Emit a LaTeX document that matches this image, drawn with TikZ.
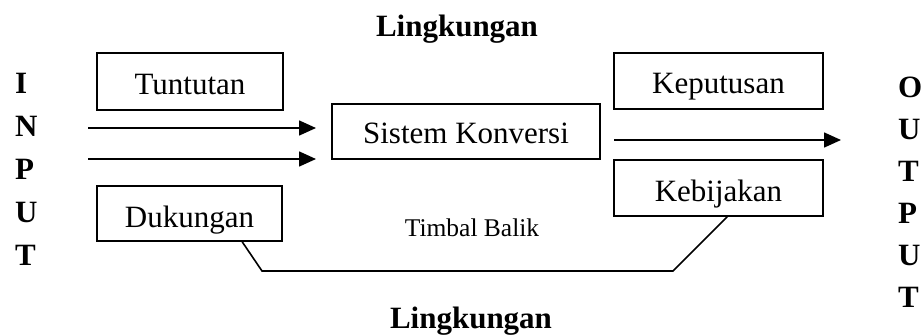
\documentclass[tikz,border=0pt]{standalone}
\usepackage{fontspec}
\setmainfont{Liberation Serif}
\usetikzlibrary{arrows.meta}
\begin{document}
\begin{tikzpicture}[x=1pt,y=-1pt,
  box/.style={draw,line width=1.6pt,inner sep=0pt,text height=25pt,text depth=0pt,font=\fontsize{31}{36}\selectfont},
  lbl/.style={inner sep=0pt,font=\fontsize{31}{36}\selectfont\bfseries},
  letter/.style={inner sep=0pt,anchor=west,font=\fontsize{31}{36}\selectfont\bfseries},
  conn/.style={line width=1.6pt},
  arr/.style={line width=1.6pt,-{Triangle[length=17pt,width=15pt]}}]
\useasboundingbox (0,0) rectangle (923,335);
% environment labels
\node[lbl] (envtop) at (457,29) {Lingkungan};
\node[lbl] (envbot) at (471,321) {Lingkungan};
% boxes
\node[box,minimum width=186pt,minimum height=57pt] (tun) at (190,81.5) {Tuntutan};
\node[box,minimum width=185pt,minimum height=55pt,text height=27pt] (duk) at (189.5,213.5) {Dukungan};
\node[box,minimum width=268pt,minimum height=55pt,text height=23pt] (sk) at (466,131.5) {Sistem Konversi};
\node[box,minimum width=209pt,minimum height=56pt] (kep) at (718.5,81) {Keputusan};
\node[box,minimum width=209pt,minimum height=56pt,text height=27pt] (keb) at (718.5,188) {Kebijakan};
\node[inner sep=0pt,font=\fontsize{25.5}{30}\selectfont] (tb) at (472,228) {Timbal Balik};
% INPUT letters
\node[letter] (i1) at (15,83) {I};
\node[letter] (i2) at (15,126) {N};
\node[letter] (i3) at (15,169) {P};
\node[letter] (i4) at (15,212) {U};
\node[letter] (i5) at (15,255) {T};
% OUTPUT letters
\node[letter] (o1) at (898,87) {O};
\node[letter] (o2) at (898,129) {U};
\node[letter] (o3) at (898,171) {T};
\node[letter] (o4) at (898,213) {P};
\node[letter] (o5) at (898,255) {U};
\node[letter] (o6) at (898,297) {T};
% arrows
\coordinate (a1s) at (88,128);
\coordinate (a1e) at (316,128);
\coordinate (a2s) at (88,159);
\coordinate (a2e) at (316,159);
\coordinate (os) at (614,140);
\coordinate (oe) at (841,140);
\draw[arr] (a1s) -- (a1e);
\draw[arr] (a2s) -- (a2e);
\draw[arr] (os) -- (oe);
% feedback
\coordinate (f1) at (262,271);
\coordinate (f2) at (673,271);
\draw[conn] ([xshift=146pt]duk.south west) -- (f1) -- (f2) -- ([xshift=114pt]keb.south west);
\end{tikzpicture}
\end{document}
